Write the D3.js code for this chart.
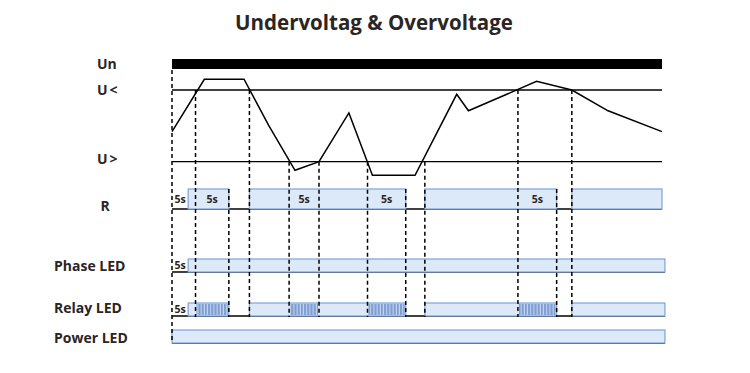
<!DOCTYPE html>
<html><head><meta charset="utf-8">
<script src="https://cdn.jsdelivr.net/npm/d3@7"></script>
<style>body{margin:0;background:#fff}svg{display:block}</style>
</head><body><svg id="c" width="750" height="373"></svg>
<script>
// time units 0..100 across the diagram, voltage in units where lower threshold = 0, upper threshold = 1
const waveT = [0, 6.6, 14.7, 19.7, 25.1, 30, 36.1, 40.9, 49.6, 58.1, 60.5, 74.4, 81.6, 89.0, 100];
const waveV = [0.42, 1.15, 1.15, 0.51, -0.12, 0, 0.68, -0.19, -0.19, 0.94, 0.71, 1.12, 1.0, 0.71, 0.42];
const thresholds = [1, 0];
const thresholdLabels = ["U<", "U>"];
const rowLabels = ["Un", "R", "Phase LED", "Relay LED", "Power LED"];
const rOn = [[3.3, 11.6], [15.8, 47.7], [51.6, 78.5], [81.6, 100]];
const rDelay = [[0, 3.3], [4.8, 11.6], [23.9, 30], [39.9, 47.7], [70.6, 78.5]];
const phaseOn = [[3.3, 100.6]];
const phaseDelay = [[0, 3.3]];
const relayOn = [[3.3, 11.6], [15.8, 47.7], [51.6, 78.5], [81.6, 100.6]];
const relayFlash = [[4.8, 11.6], [23.9, 30], [39.9, 47.7], [70.6, 78.5]];
const relayDelay = [[0, 3.3]];
const powerOn = [[0, 100.6]];
const eventT = [0, 4.8, 11.6, 15.8, 23.9, 30, 39.9, 47.7, 51.6, 70.6, 78.5, 81.6];
const eventFrom = ["un", "hi", "r", "hi", "lo", "lo", "lo", "r", "lo", "hi", "r", "hi"];

const svg = d3.select("#c");
const x = d3.scaleLinear().domain([0, 100]).range([172, 662]);
const v = d3.scaleLinear().domain([0, 1]).range([161.7, 90]);
const fontF = "'Open Sans', 'DejaVu Sans', sans-serif";
const txt = "#2b2523";
const boxFill = "#dce9f9", boxStroke = "#7fa2d8";

// pattern for flashing
const defs = svg.append("defs");
const pat = defs.append("pattern").attr("id", "flash").attr("patternUnits", "userSpaceOnUse")
  .attr("width", 3.2).attr("height", 20);
pat.append("rect").attr("width", 3.2).attr("height", 20).attr("fill", "#7f9fd4");
pat.append("rect").attr("x", 2.2).attr("width", 1).attr("height", 20).attr("fill", "#c9d9f1");

// title
svg.append("text").attr("x", 374).attr("y", 30).attr("text-anchor", "middle")
  .attr("font-family", fontF).attr("font-weight", 700).attr("font-size", 20.5)
  .attr("fill", txt).text("Undervoltag & Overvoltage");

// row geometry
const rows = {
  un: [59, 69], r: [189, 209], phase: [259, 272], relay: [303, 316], power: [330, 343]
};

// labels
const lab = (t, xx, yy, anchor) => svg.append("text").attr("x", xx).attr("y", yy)
  .attr("text-anchor", anchor).attr("font-family", fontF).attr("font-weight", 700)
  .attr("font-size", 14).attr("fill", txt).text(t);
lab(rowLabels[0], 97, 69, "start");
lab(thresholdLabels[0], 97, 95, "start").attr("letter-spacing", 2);
lab(thresholdLabels[1], 97, 164, "start").attr("letter-spacing", 2);
lab(rowLabels[1], 105, 211, "middle");
lab(rowLabels[2], 54, 271, "start");
lab(rowLabels[3], 54, 313, "start");
lab(rowLabels[4], 54, 343, "start");

// Un bar
svg.append("rect").attr("x", x(0)).attr("y", rows.un[0]).attr("width", x(100) - x(0))
  .attr("height", rows.un[1] - rows.un[0]).attr("fill", "#000");

// threshold lines
svg.selectAll("line.th").data(thresholds).enter().append("line")
  .attr("x1", x(0)).attr("x2", x(100)).attr("y1", d => v(d)).attr("y2", d => v(d))
  .attr("stroke", "#000").attr("stroke-width", 1.3);

// waveform
const pts = waveT.map((t, i) => [t, waveV[i]]);
svg.append("path").datum(pts)
  .attr("d", d3.line().x(d => x(d[0])).y(d => v(d[1])))
  .attr("fill", "none").attr("stroke", "#000").attr("stroke-width", 1.5).attr("stroke-linejoin", "miter");

// baselines
[["r", 100], ["phase", 100.6], ["relay", 100.6], ["power", 100.6]].forEach(([k, e]) => {
  svg.append("line").attr("x1", x(0)).attr("x2", x(e)).attr("y1", rows[k][1]).attr("y2", rows[k][1])
    .attr("stroke", "#000").attr("stroke-width", 1.3);
});

// boxes
function boxes(list, key, fill, stroke) {
  svg.append("g").selectAll("rect").data(list).enter().append("rect")
    .attr("x", d => x(d[0])).attr("width", d => x(d[1]) - x(d[0]))
    .attr("y", rows[key][0]).attr("height", rows[key][1] - rows[key][0])
    .attr("fill", fill).attr("stroke", stroke).attr("stroke-width", 1.2);
}
boxes(rOn, "r", boxFill, boxStroke);
boxes(phaseOn, "phase", boxFill, boxStroke);
boxes(relayOn, "relay", boxFill, boxStroke);
svg.append("g").selectAll("rect").data(relayFlash).enter().append("rect")
  .attr("x", d => x(d[0]) + 1).attr("width", d => x(d[1]) - x(d[0]) - 2)
  .attr("y", rows.relay[0] + 1).attr("height", rows.relay[1] - rows.relay[0] - 2)
  .attr("fill", "url(#flash)");
boxes(powerOn, "power", boxFill, boxStroke);

// event dashed lines
const topY = { un: 70, hi: v(1), lo: v(0), r: rows.r[0] };
svg.append("g").selectAll("line").data(eventT).enter().append("line")
  .attr("x1", d => x(d)).attr("x2", d => x(d))
  .attr("y1", (d, i) => topY[eventFrom[i]])
  .attr("y2", (d, i) => i === 0 ? rows.power[1] : rows.relay[1] + 1)
  .attr("stroke", "#000").attr("stroke-width", 1.5).attr("stroke-dasharray", "4,3");

// 5s labels
const five = (list, key) => svg.append("g").selectAll("text").data(list).enter().append("text")
  .attr("x", d => x((d[0] + d[1]) / 2)).attr("y", (rows[key][0] + rows[key][1]) / 2 + 3.8)
  .attr("text-anchor", "middle").attr("font-family", fontF).attr("font-weight", 700)
  .attr("font-size", 10.5).attr("fill", txt).text("5s");
five(rDelay, "r");
five(phaseDelay, "phase");
five(relayDelay, "relay");
</script></body></html>
